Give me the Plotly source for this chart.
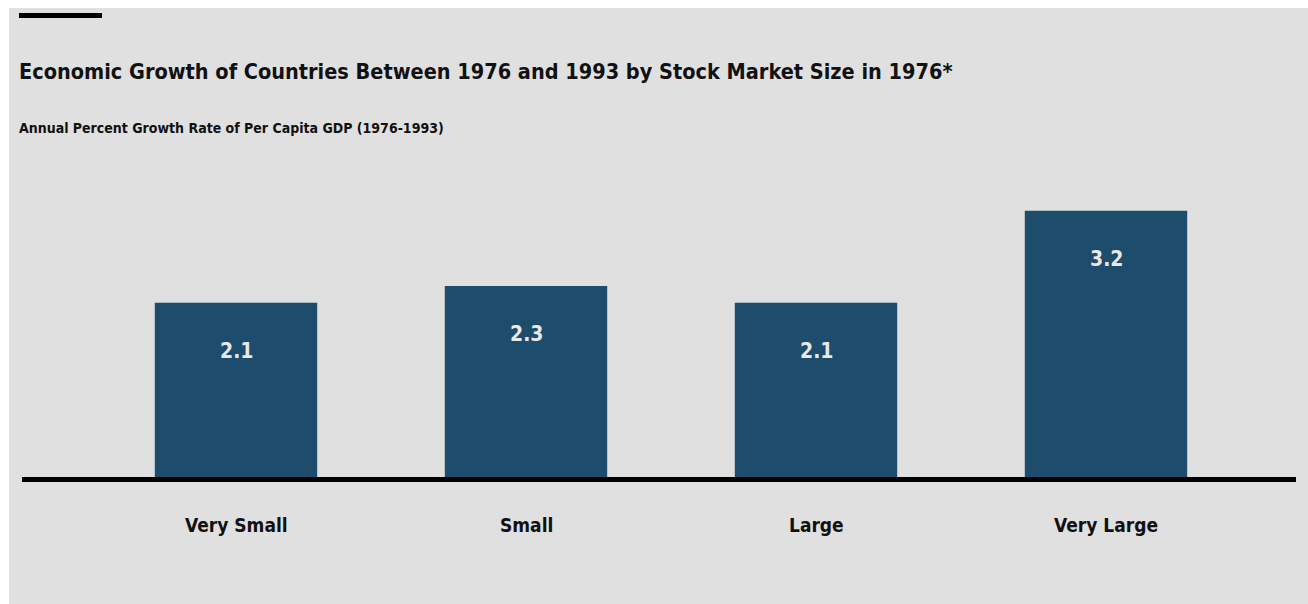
import plotly.graph_objects as go

# Growth of per-capita GDP by 1976 stock market size
categories = ["Very Small", "Small", "Large", "Very Large"]
growth = [2.1, 2.3, 2.1, 3.2]
value_labels = ["2.1", "2.3", "2.1", "3.2"]

W, H = 1308, 604
BG = "#e0e0e0"
BAR = "#1e4c6c"
FONT = "DejaVu Sans Condensed, Liberation Sans, Arial, sans-serif"

# plot area in pixels
x_left, x_right = 91, 1251
y_base, y_top = 478, 60.5

fig = go.Figure()
fig.add_trace(go.Bar(
    x=list(range(len(categories))),
    y=growth,
    width=0.56,
    marker=dict(color=BAR, line=dict(width=0)),
    hoverinfo="skip",
))

# value labels inside the bar tops
for i, (v, t) in enumerate(zip(growth, value_labels)):
    fig.add_annotation(
        x=i, y=v, text=f"<b>{t}</b>", showarrow=False,
        yanchor="middle", yshift=-48,
        font=dict(family=FONT, size=21, color="#e8e8e8"),
    )

# category labels below the baseline
for i, c in enumerate(categories):
    fig.add_annotation(
        x=i, y=0, text=f"<b>{c}</b>", showarrow=False,
        yanchor="middle", yshift=-47,
        font=dict(family=FONT, size=19, color="#111111"),
    )

shapes = [
    # grey panel
    dict(type="rect", xref="paper", yref="paper",
         x0=9 / W, x1=1.0, y0=0, y1=1 - 8 / H,
         fillcolor=BG, line=dict(width=0), layer="below"),
    # short rule above the title
    dict(type="rect", xref="paper", yref="paper",
         x0=19 / W, x1=102 / W, y0=1 - 18 / H, y1=1 - 13 / H,
         fillcolor="#000000", line=dict(width=0)),
    # baseline
    dict(type="rect", xref="paper", yref="paper",
         x0=22 / W, x1=1296 / W, y0=1 - 482 / H, y1=1 - 477 / H,
         fillcolor="#000000", line=dict(width=0)),
]

fig.add_annotation(
    xref="paper", yref="paper", x=17 / W, y=1 - 72 / H,
    xanchor="left", yanchor="middle", showarrow=False,
    text="<b>Economic Growth of Countries Between 1976 and 1993 by Stock Market Size in 1976*</b>",
    font=dict(family=FONT, size=21.5, color="#111111"),
)
fig.add_annotation(
    xref="paper", yref="paper", x=17 / W, y=1 - 128 / H,
    xanchor="left", yanchor="middle", showarrow=False,
    text="<b>Annual Percent Growth Rate of Per Capita GDP (1976-1993)</b>",
    font=dict(family=FONT, size=14, color="#111111"),
)

fig.update_layout(
    width=W, height=H,
    margin=dict(l=0, r=0, t=0, b=0),
    paper_bgcolor="#ffffff",
    plot_bgcolor="rgba(0,0,0,0)",
    showlegend=False,
    shapes=shapes,
    xaxis=dict(domain=[x_left / W, x_right / W], range=[-0.5, 3.5],
               showticklabels=False, showgrid=False, zeroline=False,
               showline=False, fixedrange=True),
    yaxis=dict(domain=[1 - y_base / H, 1 - y_top / H], range=[0, 5],
               showticklabels=False, showgrid=False, zeroline=False,
               showline=False, fixedrange=True),
)

fig.write_html("out.html")
